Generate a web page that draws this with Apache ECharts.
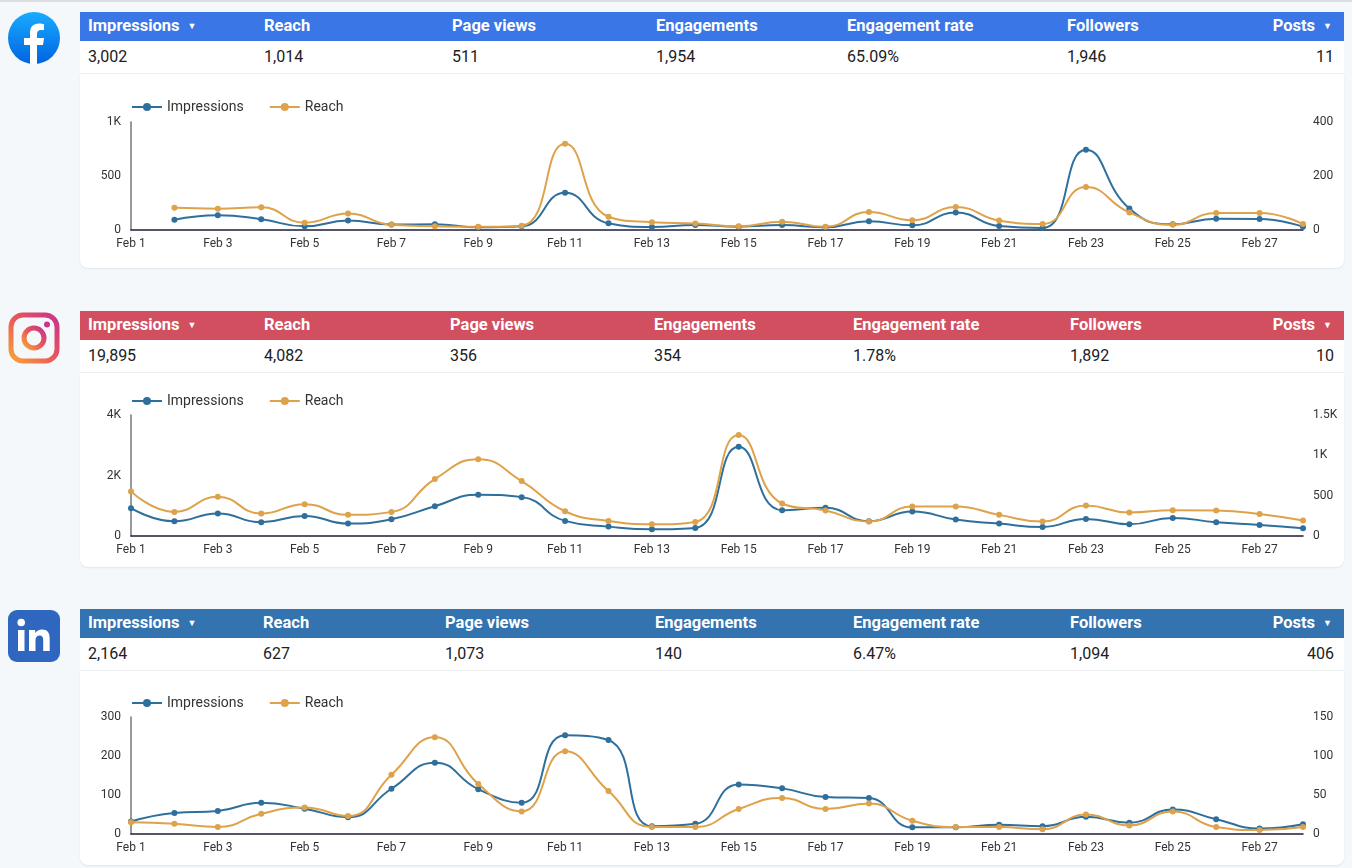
<!DOCTYPE html>
<html>
<head>
<meta charset="utf-8">
<title>Social media overview</title>
<script src="https://cdn.jsdelivr.net/npm/echarts@6/dist/echarts.min.js"></script>
<style>
    body { margin:0; background:#f5f8fa; font-family:Roboto, "Noto Sans", sans-serif; }
    #page { position:relative; width:1352px; height:868px; overflow:hidden; border-top:2px solid #dcdfe2; box-sizing:border-box; }
    .icon { position:absolute; left:8px; width:52px; height:52px; }
    .block { position:absolute; left:80px; width:1264px; }
    .head { position:relative; height:29px; color:#fff; font-weight:bold; font-size:16.5px; }
    .vals { position:relative; height:33px; background:#fff; font-size:16px; color:#202124; border-bottom:1px solid #eceef0; box-sizing:border-box; }
    .head span, .vals span { position:absolute; top:0; white-space:nowrap; }
    .head span { line-height:28px; }
    .vals span { line-height:32px; }
    .arrow { font-size:9px; margin-left:8px; vertical-align:2px; }
    .card { height:194px; background:#fff; border-radius:0 0 8px 8px; box-shadow:0 1px 2px rgba(0,0,0,0.08); }
</style>
</head>
<body>
<div id="page">
    <svg class="icon" style="top:10px" viewBox="0 0 52 52">
        <defs><linearGradient id="fbg" x1="0" y1="0" x2="0" y2="1">
            <stop offset="0" stop-color="#18acfe"/><stop offset="1" stop-color="#0163e0"/></linearGradient></defs>
        <circle cx="26" cy="26" r="26" fill="url(#fbg)"/>
        <path d="M29 52 V33 h6 l1 -7 h-7 v-4 c0 -2 1 -4 4 -4 h3 v-6 c-1 0 -3 -0.5 -5 -0.5 c-6 0 -9 3.5 -9 9.5 v5 h-6 v7 h6 v19 z" fill="#fff"/>
    </svg>
    <svg class="icon" style="top:310px" viewBox="0 0 52 52">
        <defs><linearGradient id="igg" x1="0" y1="1" x2="1" y2="0">
            <stop offset="0" stop-color="#f9a23a"/><stop offset="0.5" stop-color="#e8585a"/><stop offset="1" stop-color="#c9338f"/></linearGradient></defs>
        <rect x="3" y="3" width="46" height="46" rx="12" fill="none" stroke="url(#igg)" stroke-width="5"/>
        <circle cx="26" cy="26" r="10" fill="none" stroke="url(#igg)" stroke-width="5"/>
        <circle cx="39" cy="12.5" r="3" fill="#c9338f"/>
    </svg>
    <svg class="icon" style="top:608px" viewBox="0 0 52 52">
        <rect x="0" y="0" width="52" height="52" rx="9" fill="#2f67c0"/>
        <rect x="10" y="20" width="6.5" height="21" fill="#fff"/>
        <circle cx="13.2" cy="12.5" r="3.8" fill="#fff"/>
        <path d="M21 20 h6.2 v3 c1.5 -2.3 3.8 -3.6 7 -3.6 c5 0 7.5 3 7.5 9 V41 h-6.5 V30 c0 -3 -1 -4.5 -3.5 -4.5 c-2.7 0 -4.2 1.8 -4.2 5 V41 H21 z" fill="#fff"/>
    </svg>

    <div class="block" style="top:10px">
        <div class="head" id="fb_head" style="background:#3a76e6"></div>
        <div class="vals" id="fb_vals"></div>
        <div class="card" id="chart_fb"></div>
    </div>
    <div class="block" style="top:309px">
        <div class="head" id="ig_head" style="background:#d24f60"></div>
        <div class="vals" id="ig_vals"></div>
        <div class="card" id="chart_ig"></div>
    </div>
    <div class="block" style="top:607px">
        <div class="head" id="li_head" style="background:#3273b0"></div>
        <div class="vals" id="li_vals"></div>
        <div class="card" id="chart_li"></div>
    </div>
</div>
<script>
var kpiNames = ["Impressions", "Reach", "Page views", "Engagements", "Engagement rate", "Followers", "Posts"];
var fbTotals = ["3,002", "1,014", "511", "1,954", "65.09%", "1,946", "11"];
var igTotals = ["19,895", "4,082", "356", "354", "1.78%", "1,892", "10"];
var liTotals = ["2,164", "627", "1,073", "140", "6.47%", "1,094", "406"];

var dates = ["Feb 1", "Feb 2", "Feb 3", "Feb 4", "Feb 5", "Feb 6", "Feb 7", "Feb 8", "Feb 9", "Feb 10",
    "Feb 11", "Feb 12", "Feb 13", "Feb 14", "Feb 15", "Feb 16", "Feb 17", "Feb 18", "Feb 19", "Feb 20",
    "Feb 21", "Feb 22", "Feb 23", "Feb 24", "Feb 25", "Feb 26", "Feb 27", "Feb 28"];

var fbImpressions = [null, 94, 137, 100, 34, 87, 50, 53, 25, 34, 344, 62, 28, 47,
    31, 46, 25, 80, 43, 161, 37, 19, 743, 198, 53, 105, 102, 31];
var fbReach = [null, 82, 79, 84, 27, 61, 19, 14, 12, 16, 319, 49, 29, 24,
    14, 31, 12, 67, 36, 85, 35, 22, 159, 65, 19, 63, 63, 22];

var igImpressions = [920, 488, 742, 454, 665, 410, 554, 986, 1363, 1285, 499, 310, 222, 266,
    2947, 853, 931, 488, 809, 543, 410, 299, 565, 388, 598, 454, 366, 255];
var igReach = [553, 299, 486, 278, 395, 262, 299, 706, 951, 681, 307, 187, 145, 175,
    1251, 403, 316, 179, 366, 366, 262, 179, 378, 291, 320, 316, 274, 191];

var liImpressions = [32, 54, 59, 80, 65, 43, 116, 183, 115, 80, 253, 241, 20, 26,
    127, 117, 95, 92, 17, 17, 24, 20, 44, 29, 63, 38, 14, 25];
var liReach = [15, 13, 9, 26, 34, 23, 76, 124, 64, 29, 106, 55, 9, 9,
    32, 46, 32, 39, 17, 9, 9, 6, 25, 11, 29, 9, 5, 9];

// column positions of the kpi table, per block
var fbCols = [8, 184, 372, 576, 767, 987];
var igCols = [8, 184, 370, 574, 773, 990];
var liCols = [8, 183, 365, 575, 773, 990];

function fillTable(headId, valsId, cols, totals){
    var head = document.getElementById(headId);
    var vals = document.getElementById(valsId);
    var h = "", v = "";
    for (var i = 0; i < kpiNames.length; i++){
        var arrow = (i == 0 || i == kpiNames.length - 1) ? '<span class="arrow" style="position:static">&#9660;</span>' : '';
        if (i < cols.length){
            h += '<span style="left:' + cols[i] + 'px">' + kpiNames[i] + arrow + '</span>';
            v += '<span style="left:' + cols[i] + 'px">' + totals[i] + '</span>';
        } else {
            h += '<span style="right:12px">' + kpiNames[i] + arrow + '</span>';
            v += '<span style="right:10px">' + totals[i] + '</span>';
        }
    }
    head.innerHTML = h;
    vals.innerHTML = v;
}

function kFormat(value){
    if (value >= 1000){
        return (value / 1000) + "K";
    }
    return value;
}

// layout = [legendTop, gridTop, gridBottom]
function drawChart(domId, impressions, reach, leftMax, leftStep, rightMax, rightStep, layout){
    var chart = echarts.init(document.getElementById(domId));
    var option = {
        textStyle: { fontFamily: "Roboto" },
        color: ["#2f6f9c", "#dea24a"],
        legend: {
            left: 46,
            top: layout[0],
            itemWidth: 30,
            itemHeight: 10,
            itemGap: 25,
            textStyle: { color: "#333", fontSize: 14 },
            data: ["Impressions", "Reach"]
        },
        grid: { left: 51, right: 41, top: layout[1], bottom: layout[2] },
        xAxis: {
            type: "category",
            boundaryGap: false,
            data: dates,
            axisLine: { lineStyle: { color: "#1c1c3a", width: 1.5 } },
            axisTick: { show: false },
            axisLabel: { interval: 1, color: "#333", fontSize: 12, margin: 8 }
        },
        yAxis: [{
            type: "value",
            min: 0,
            max: leftMax,
            interval: leftStep,
            axisLine: { show: true, lineStyle: { color: "#777", width: 1.5 } },
            axisTick: { show: false },
            splitLine: { show: false },
            axisLabel: { color: "#333", fontSize: 12, margin: 10, formatter: kFormat }
        }, {
            type: "value",
            min: 0,
            max: rightMax,
            interval: rightStep,
            axisLine: { show: false },
            axisTick: { show: false },
            splitLine: { show: false },
            axisLabel: { color: "#333", fontSize: 12, margin: 10, formatter: kFormat }
        }],
        series: [{
            name: "Impressions",
            type: "line",
            smooth: true,
            symbol: "circle",
            symbolSize: 6,
            showAllSymbol: true,
            lineStyle: { width: 2 },
            data: impressions
        }, {
            name: "Reach",
            type: "line",
            yAxisIndex: 1,
            smooth: true,
            symbol: "circle",
            symbolSize: 6,
            showAllSymbol: true,
            lineStyle: { width: 2 },
            data: reach
        }]
    };
    chart.setOption(option);
}

fillTable("fb_head", "fb_vals", fbCols, fbTotals);
fillTable("ig_head", "ig_vals", igCols, igTotals);
fillTable("li_head", "li_vals", liCols, liTotals);

drawChart("chart_fb", fbImpressions, fbReach, 1000, 500, 400, 200, [21, 48, 38]);
drawChart("chart_ig", igImpressions, igReach, 4000, 2000, 1500, 500, [16, 42, 31]);
drawChart("chart_li", liImpressions, liReach, 300, 100, 150, 50, [20, 46, 31]);
</script>
</body>
</html>
